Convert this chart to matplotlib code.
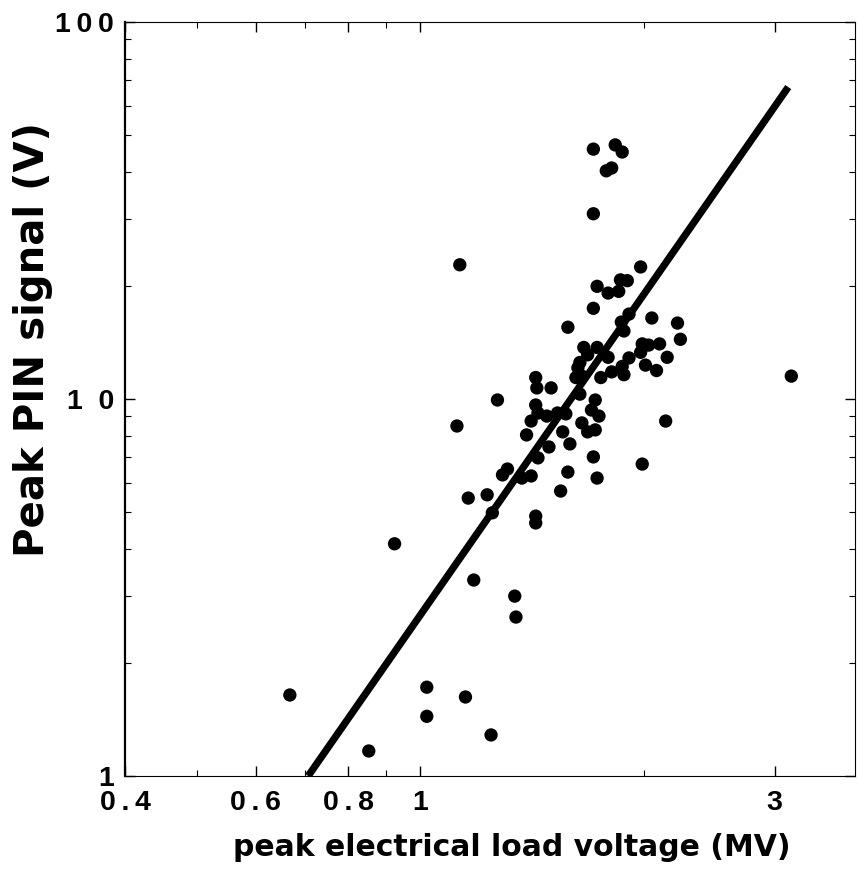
import matplotlib
matplotlib.use("Agg")
import matplotlib.pyplot as plt
from matplotlib.ticker import FixedLocator, FixedFormatter, NullFormatter

# peak electrical load voltage (MV)
x_mv = [0.667, 0.852, 0.923, 1.02, 1.02, 1.15, 1.245, 1.18, 1.34, 1.345,
        1.16, 1.23, 1.25, 1.29, 1.31, 1.37, 1.41, 1.43, 1.43, 1.44,
        1.12, 1.13, 1.27, 1.39, 1.41, 1.43, 1.435, 1.50, 1.43, 1.44,
        1.48, 1.53, 1.57, 1.49, 1.555, 1.59, 1.545, 1.58, 1.71, 1.73,
        1.99, 2.14, 1.64, 1.72, 1.70, 1.74, 1.65, 1.68, 1.72,
        1.58, 1.64, 1.63, 1.62, 1.65, 1.66, 1.68, 1.73, 1.79, 1.75,
        1.81, 1.87, 1.88, 1.91, 1.98, 2.01, 2.08, 2.15, 1.99, 2.03,
        2.10, 2.05, 2.22, 2.24, 1.865, 1.88, 1.91, 1.71, 1.73, 1.79,
        1.85, 1.86, 1.90, 1.98, 1.71, 1.71, 1.83, 1.87, 1.78, 1.81,
        3.16]
# peak PIN signal (V)
y_v = [1.64, 1.165, 4.13, 1.72, 1.44, 1.62, 1.285, 3.31, 3.00, 2.64,
       5.46, 5.57, 4.99, 6.29, 6.52, 6.17, 6.25, 4.89, 4.69, 6.98,
       8.48, 22.7, 9.94, 8.03, 8.74, 11.4, 10.7, 10.7, 9.64, 9.18,
       9.01, 9.18, 9.13, 7.46, 8.18, 7.60, 5.70, 6.40, 7.02, 6.17,
       6.72, 8.74, 10.3, 9.94, 9.35, 9.01, 8.64, 8.18, 8.28,
       15.5, 12.5, 12.1, 11.4, 11.5, 13.7, 13.1, 13.7, 12.9, 11.4,
       11.8, 12.2, 11.6, 12.85, 13.3, 12.3, 11.9, 12.9, 14.0, 13.9,
       14.0, 16.4, 15.9, 14.4, 16.0, 15.15, 16.8, 17.4, 19.9, 19.1,
       19.3, 20.7, 20.6, 22.4, 31.0, 46.0, 47.2, 45.2, 40.3, 41.0,
       11.5]

# power-law fit line end points
fit_x = [0.706, 3.13]
fit_y = [1.0, 67.2]

x_major = [0.4, 0.6, 0.8, 1, 3]
x_major_labels = ["0\u2009.\u20094", "0\u2009.\u20096", "0\u2009.\u20098", "1", "3"]
x_minor = [0.5, 0.7, 0.9, 2]
y_major = [1, 10, 100]
y_major_labels = ["1", "1  0", "1\u20090\u20090"]
y_minor = [2, 3, 4, 5, 6, 7, 8, 9, 20, 30, 40, 50, 60, 70, 80, 90]

plt.rcParams["font.family"] = ["Liberation Sans", "DejaVu Sans"]
plt.rcParams["font.weight"] = "bold"

fig = plt.figure(figsize=(8.58, 8.76), dpi=100)
ax = fig.add_axes([125 / 858, 1 - 776 / 876, 730 / 858, 754 / 876])
ax.set_xscale("log")
ax.set_yscale("log")

ax.plot(fit_x, fit_y, color="black", lw=5.2, solid_capstyle="butt", zorder=2)
ax.scatter(x_mv, y_v, s=92, c="black", edgecolors="none", zorder=3)

ax.set_xlim(0.4, 3.85)
ax.set_ylim(1, 100)

ax.xaxis.set_major_locator(FixedLocator(x_major))
ax.xaxis.set_major_formatter(FixedFormatter(x_major_labels))
ax.xaxis.set_minor_locator(FixedLocator(x_minor))
ax.xaxis.set_minor_formatter(NullFormatter())
ax.yaxis.set_major_locator(FixedLocator(y_major))
ax.yaxis.set_major_formatter(FixedFormatter(y_major_labels))
ax.yaxis.set_minor_locator(FixedLocator(y_minor))
ax.yaxis.set_minor_formatter(NullFormatter())

ax.tick_params(which="both", direction="in", top=True, right=True, color="black")
ax.tick_params(which="major", length=7, width=1.0, pad=10)
ax.tick_params(which="minor", length=4, width=0.8)
ax.tick_params(axis="y", which="major", pad=8)
for lab in ax.get_xticklabels() + ax.get_yticklabels():
    lab.set_fontsize(20.5)
    lab.set_fontweight("bold")

for side, sp in ax.spines.items():
    sp.set_color("black")
    sp.set_linewidth(0.8)
ax.spines["left"].set_linewidth(1.6)

fig.text(512 / 858, 1 - 848 / 876, "peak electrical load voltage (MV)",
         ha="center", va="center", fontsize=21.5, fontweight="bold",
         family="DejaVu Sans")
fig.text(33 / 858, 1 - 340 / 876, "Peak PIN signal (V)", rotation=90,
         ha="center", va="center", fontsize=29, fontweight="bold",
         family="DejaVu Sans")

fig.savefig("out.png", dpi=100)
